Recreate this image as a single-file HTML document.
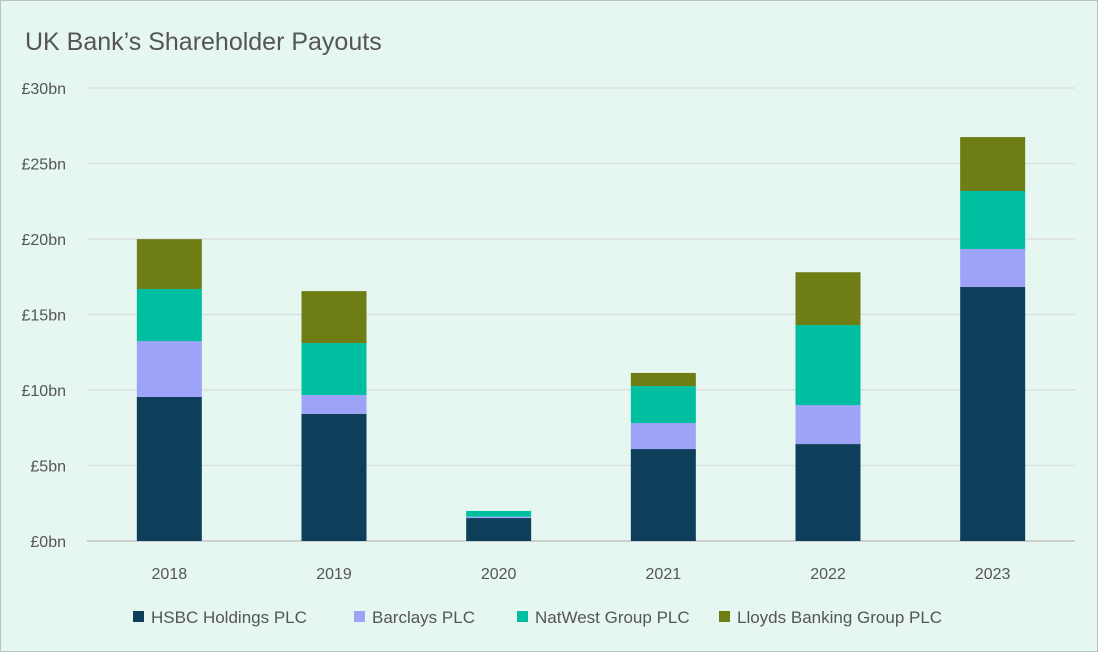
<!DOCTYPE html>
<html><head><meta charset="utf-8"><style>
html,body{margin:0;padding:0}
body{width:1098px;height:652px;background:#e6f7f2;font-family:"Liberation Sans",sans-serif;overflow:hidden}
#wrap{position:absolute;left:0;top:0;width:1096px;height:650px;border:1px solid #b8c4c0;background:#e6f7f2}
</style></head><body>
<div id="wrap">
<svg id="chart" width="1098" height="652" style="position:absolute;left:-1px;top:-1px">
<text x="25" y="50" font-size="25" fill="#555">UK Bank’s Shareholder Payouts</text>
<g id="grid"></g><g id="bars"></g><g id="xlab"></g><g id="legend"></g>
</svg>
</div>
<script>
const categories=["2018","2019","2020","2021","2022","2023"];
const seriesNames=["HSBC Holdings PLC","Barclays PLC","NatWest Group PLC","Lloyds Banking Group PLC"];
const hsbc=[9.54,8.41,1.52,6.09,6.42,16.82];
const barclays=[3.7,1.26,0.09,1.72,2.58,2.52];
const natwest=[3.45,3.44,0.38,2.45,5.3,3.84];
const lloyds=[3.3,3.44,0,0.87,3.5,3.57];
const yTicks=[0,5,10,15,20,25,30];
const yTickLabels=["£0bn","£5bn","£10bn","£15bn","£20bn","£25bn","£30bn"];
const colors=["#0d3f5a","#9da3f7","#00bfa0","#6e7d14"];
const series=[hsbc,barclays,natwest,lloyds];
const NS="http://www.w3.org/2000/svg";
const x0=87,x1=1075,y0=541,y1=88,ymax=30;
const y=v=>y0-(v/ymax)*(y0-y1);
const bw=(x1-x0)/categories.length;
const xc=i=>x0+bw*(i+0.5);
function mk(t,a){const e=document.createElementNS(NS,t);for(const k in a)e.setAttribute(k,a[k]);return e;}
const grid=document.getElementById('grid');
yTicks.forEach((t,i)=>{
  const l=mk('line',{x1:x0,x2:x1,y1:y(t),y2:y(t),stroke:i==0?'#cfcfcf':'#d8dcdb','stroke-width':i==0?2:1.3});
  
  
  grid.appendChild(l);
  const tx=mk('text',{x:66,y:y(t)+6,'text-anchor':'end','font-size':16,fill:'#555'});
  tx.textContent=yTickLabels[i];
  
  
  grid.appendChild(tx);
});
const bars=document.getElementById('bars');
categories.forEach((c,i)=>{
  let acc=0;
  series.forEach((s,j)=>{
    const v=s[i];if(v<=0)return;
    const r=mk('rect',{x:xc(i)-32.5,width:65,y:y(acc+v),height:y(acc)-y(acc+v),fill:colors[j]});
    
    
    bars.appendChild(r);acc+=v;
  });
  const t=mk('text',{x:xc(i),y:579,'text-anchor':'middle','font-size':16,fill:'#555'});
  t.textContent=c;
  
  
  document.getElementById('xlab').appendChild(t);
});
const lg=document.getElementById('legend');
const lx=[133,354,517,719];
seriesNames.forEach((n,j)=>{
  const g=mk('g',{});
  
  
  g.appendChild(mk('rect',{x:lx[j],y:611,width:11,height:11,fill:colors[j]}));
  const t=mk('text',{x:lx[j]+18,y:623,'font-size':17,fill:'#555'});t.textContent=n;g.appendChild(t);
  lg.appendChild(g);
});
</script>
</body></html>
